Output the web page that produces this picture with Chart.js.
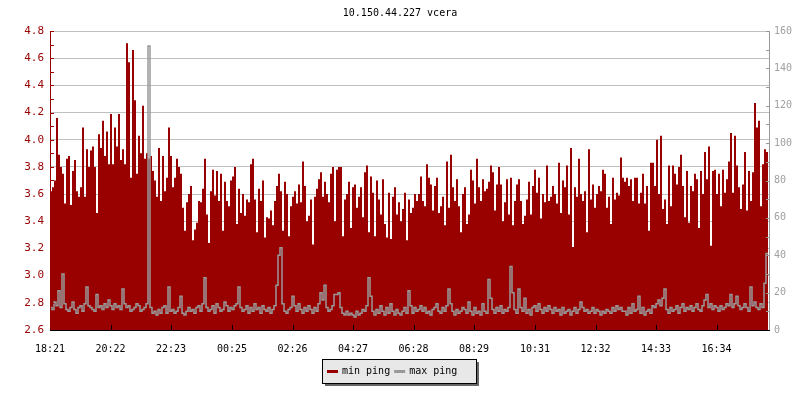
<!DOCTYPE html>
<html>
<head>
<meta charset="utf-8">
<script src="https://cdn.jsdelivr.net/npm/chart.js@4.4.1/dist/chart.umd.min.js"></script>
<style>
  html, body { margin: 0; padding: 0; background: #fff; }
</style>
</head>
<body>
<canvas id="chart" width="800" height="400"></canvas>
<script>
// x axis: minutes after 18:21, one sample every 4 minutes
const timeLabels = ['18:21', '20:22', '22:23', '00:25', '02:26', '04:27', '06:28', '08:29', '10:31', '12:32', '14:33', '16:34'];
const tickMinutes = [0, 121, 242, 364, 485, 606, 727, 848, 970, 1091, 1212, 1333];
const sampleStep = 4;

const leftTicks = [2.6, 2.8, 3.0, 3.2, 3.4, 3.6, 3.8, 4.0, 4.2, 4.4, 4.6, 4.8];
const rightTicks = [0, 20, 40, 60, 80, 100, 120, 140, 160];

// min ping (ms, left axis)
const minPing = [
  3.72,3.62,3.65,3.70,4.16,3.89,3.80,3.75,3.53,3.86,
  3.88,3.52,3.77,3.85,3.62,3.58,3.65,4.09,3.58,3.93,
  3.80,3.92,3.95,3.80,3.46,4.04,3.94,4.14,3.88,4.06,
  3.82,4.19,3.82,4.09,3.95,4.19,3.85,3.93,3.82,4.71,
  4.57,3.72,4.66,4.29,3.75,4.03,3.90,4.25,3.86,3.90,
  3.86,3.88,3.77,3.70,3.58,3.94,3.55,3.88,3.62,3.72,
  4.09,3.88,3.65,3.72,3.86,3.80,3.75,3.50,3.33,3.54,
  3.60,3.66,
  3.26,3.34,3.39,3.55,3.54,3.64,3.86,3.45,3.24,3.62,
  3.78,3.59,3.77,3.55,3.75,3.33,3.69,3.55,3.51,3.70,
  3.73,3.80,3.38,3.64,3.46,3.60,3.44,3.56,3.54,3.82,
  3.86,3.56,3.32,3.64,3.55,3.70,3.28,3.43,3.42,3.48,
  3.37,3.55,3.66,3.75,3.62,3.33,3.69,3.60,3.29,3.51,
  3.58,3.62,3.53,3.67,3.54,3.84,3.66,3.40,3.44,3.56,
  3.23,3.58,3.64,3.71,3.76,3.58,3.69,3.60,3.54,3.75,
  3.80,3.40,
  3.78,3.80,3.80,3.29,3.56,3.60,3.69,3.35,3.65,3.67,
  3.50,3.58,3.65,3.43,3.76,3.81,3.32,3.73,3.61,3.29,
  3.70,3.56,3.45,3.71,3.38,3.28,3.61,3.27,3.58,3.65,
  3.45,3.54,3.40,3.49,3.61,3.26,3.56,3.46,3.50,3.60,
  3.55,3.60,3.73,3.55,3.51,3.82,3.72,3.67,3.48,3.66,
  3.72,3.46,3.51,3.58,3.37,3.84,3.50,3.89,3.65,3.55,
  3.71,3.51,3.32,3.60,3.65,3.38,3.45,3.78,3.70,3.53,
  3.86,3.65,
  3.55,3.71,3.62,3.64,3.69,3.81,3.76,3.48,3.67,3.80,
  3.67,3.40,3.54,3.71,3.45,3.72,3.37,3.55,3.67,3.71,
  3.55,3.38,3.44,3.56,3.69,3.45,3.66,3.78,3.61,3.72,
  3.42,3.60,3.54,3.81,3.55,3.58,3.66,3.60,3.53,3.83,
  3.46,3.70,3.65,3.81,3.45,3.94,3.21,3.65,3.58,3.86,
  3.60,3.55,3.62,3.32,3.93,3.56,3.67,3.50,3.60,3.66,
  3.62,3.78,3.75,3.50,3.58,3.38,3.72,3.56,3.61,3.59,
  3.87,3.72,
  3.69,3.72,3.66,3.71,3.55,3.72,3.72,3.53,3.61,3.75,
  3.53,3.66,3.33,3.83,3.83,3.66,4.00,3.60,4.03,3.49,
  3.56,3.38,3.81,3.51,3.81,3.75,3.67,3.80,3.89,3.66,
  3.43,3.77,3.39,3.66,3.62,3.75,3.71,3.35,3.77,3.60,
  3.91,3.71,3.95,3.22,3.77,3.78,3.60,3.75,3.51,3.78,
  3.61,3.71,3.84,4.05,3.61,4.03,3.81,3.65,3.49,3.67,
  3.91,3.48,3.77,3.55,3.76,4.27,4.09,4.14,3.51,3.82,
  3.93,3.91
];

// max ping (ms, right axis)
const maxPing = [
  10,12,11,15,13,21,12,30,14,11,10,12,15,11,9,12,13,10,14,23,
  13,12,11,10,19,12,13,11,14,12,16,13,11,14,12,13,11,22,14,12,
  13,10,11,12,14,13,10,11,12,14,152,12,9,10,8,11,9,12,13,9,
  23,10,11,9,10,12,18,9,8,10,12,10,
  11,9,12,13,10,14,28,12,10,11,13,9,14,12,10,11,15,13,10,12,
  11,13,14,23,12,10,11,13,9,12,10,14,11,12,9,13,11,10,12,9,
  11,13,24,40,44,14,10,9,11,12,18,13,10,14,11,9,12,10,13,11,
  9,12,10,14,20,16,24,12,10,11,13,19,
  19,20,12,9,8,10,8,9,8,7,10,8,9,11,10,13,28,18,10,8,
  11,9,13,10,8,12,9,14,10,8,11,9,8,10,12,9,21,13,9,12,
  10,11,13,10,12,9,10,8,11,12,14,10,9,12,10,13,22,14,10,8,
  11,9,10,12,11,9,15,10,8,12,9,10,
  8,14,10,9,27,17,11,9,12,10,13,9,11,10,12,34,20,11,9,22,
  12,10,17,9,11,8,12,13,10,14,11,9,12,10,13,11,9,12,10,11,
  8,12,9,10,11,8,10,12,9,11,15,12,10,11,9,10,12,9,11,10,
  8,10,9,11,10,9,12,10,13,11,12,10,
  10,8,12,9,14,10,11,18,9,12,8,10,11,9,13,12,14,16,13,17,
  22,11,9,12,10,11,13,9,12,14,10,12,11,13,10,12,14,11,10,13,
  16,19,12,14,11,13,12,10,13,11,12,14,13,19,12,14,18,13,11,12,
  14,12,10,23,13,15,12,11,14,12,25,41
];

const RED = '#990000';
const GRAY = '#999999';
const FONT = 'DejaVu Sans Mono';

Chart.defaults.font.family = FONT;
Chart.defaults.font.size = 10;

// inner tick marks, axis lines and the boxed legend
const axisMarks = {
  id: 'axisMarks',
  afterDatasetsDraw(chart) {
    const { ctx, chartArea: a, scales } = chart;
    ctx.save();
    ctx.lineWidth = 1;

    ctx.strokeStyle = '#000';
    ctx.beginPath();
    tickMinutes.forEach(m => {
      const px = Math.round(scales.x.getPixelForValue(m)) + 0.5;
      ctx.moveTo(px, a.bottom);
      ctx.lineTo(px, a.bottom - 5);
    });
    ctx.stroke();

    ctx.strokeStyle = RED;
    ctx.beginPath();
    leftTicks.forEach(v => {
      [v, v + 0.1].forEach(t => {
        if (t > 4.81) return;
        const py = Math.round(scales.y.getPixelForValue(t)) + 0.5;
        ctx.moveTo(a.left, py);
        ctx.lineTo(a.left + 4, py);
      });
    });
    ctx.moveTo(a.left + 0.5, a.top);
    ctx.lineTo(a.left + 0.5, a.bottom);
    ctx.stroke();

    ctx.strokeStyle = GRAY;
    ctx.beginPath();
    rightTicks.forEach(v => {
      [v, v + 10].forEach(t => {
        if (t > 160) return;
        const py = Math.round(scales.y1.getPixelForValue(t)) + 0.5;
        ctx.moveTo(a.right, py);
        ctx.lineTo(a.right - 4, py);
      });
    });
    ctx.moveTo(a.right - 0.5, a.top);
    ctx.lineTo(a.right - 0.5, a.bottom);
    ctx.stroke();

    ctx.strokeStyle = '#000';
    ctx.beginPath();
    ctx.moveTo(a.left, a.bottom + 0.5);
    ctx.lineTo(a.right, a.bottom + 0.5);
    ctx.stroke();
    ctx.restore();
  },
  afterDraw(chart) {
    const ctx = chart.ctx;
    const bx = 322, by = 359, bw = 154, bh = 24;
    ctx.save();
    ctx.fillStyle = '#666';
    ctx.fillRect(bx + 3, by + 3, bw, bh);
    ctx.fillStyle = '#e8e8e8';
    ctx.fillRect(bx, by, bw, bh);
    ctx.strokeStyle = '#000';
    ctx.lineWidth = 1;
    ctx.strokeRect(bx + 0.5, by + 0.5, bw, bh);

    ctx.font = '10px ' + FONT;
    ctx.textBaseline = 'middle';
    ctx.fillStyle = '#000';
    let x = bx + 5;
    const cy = by + 12.5;
    chart.data.datasets.forEach(ds => {
      ctx.strokeStyle = ds.legendColor;
      ctx.lineWidth = 3;
      ctx.beginPath();
      ctx.moveTo(x, cy);
      ctx.lineTo(x + 11, cy);
      ctx.stroke();
      ctx.fillText(ds.label, x + 15, cy);
      x += 15 + ctx.measureText(ds.label).width + 4;
    });
    ctx.restore();
  }
};

new Chart(document.getElementById('chart'), {
  type: 'line',
  data: {
    datasets: [
      {
        label: 'min ping',
        data: minPing.map((v, i) => ({ x: i * sampleStep, y: v })),
        yAxisID: 'y',
        legendColor: RED,
        borderColor: RED,
        backgroundColor: RED,
        borderWidth: 0,
        fill: 'start',
        stepped: 'after',
        pointRadius: 0,
        order: 2
      },
      {
        label: 'max ping',
        data: maxPing.map((v, i) => ({ x: i * sampleStep, y: v })),
        yAxisID: 'y1',
        legendColor: GRAY,
        borderColor: GRAY,
        borderWidth: 1.5,
        fill: false,
        stepped: 'after',
        pointRadius: 0,
        order: 1
      }
    ]
  },
  options: {
    responsive: false,
    animation: false,
    layout: { padding: 0 },
    plugins: {
      legend: { display: false },
      tooltip: { enabled: false },
      title: {
        display: true,
        text: '10.150.44.227 vcera',
        color: '#000',
        font: { family: FONT, size: 10, weight: 'normal' },
        padding: { top: 7, bottom: 12 }
      }
    },
    scales: {
      x: {
        type: 'linear',
        min: 0,
        max: 1440,
        afterFit: s => { s.height = 70; },
        afterBuildTicks: s => { s.ticks = tickMinutes.map(v => ({ value: v })); },
        grid: { display: false },
        border: { display: false },
        ticks: {
          color: '#000',
          padding: 5,
          autoSkip: false,
          maxRotation: 0,
          callback: (v, i) => timeLabels[i]
        }
      },
      y: {
        position: 'left',
        min: 2.6,
        max: 4.8,
        afterFit: s => { s.width = 50; },
        afterBuildTicks: s => { s.ticks = leftTicks.map(v => ({ value: v })); },
        grid: { color: '#c0c0c0', drawTicks: false },
        border: { display: false },
        ticks: {
          color: RED,
          padding: 6,
          font: { size: 11 },
          callback: v => v.toFixed(1)
        }
      },
      y1: {
        position: 'right',
        min: 0,
        max: 160,
        afterFit: s => { s.width = 30; },
        afterBuildTicks: s => { s.ticks = rightTicks.map(v => ({ value: v })); },
        grid: { display: false, drawTicks: false },
        border: { display: false },
        ticks: {
          color: '#a0a0a0',
          padding: 4,
          font: { size: 10 }
        }
      }
    }
  },
  plugins: [axisMarks]
});
</script>
</body>
</html>
